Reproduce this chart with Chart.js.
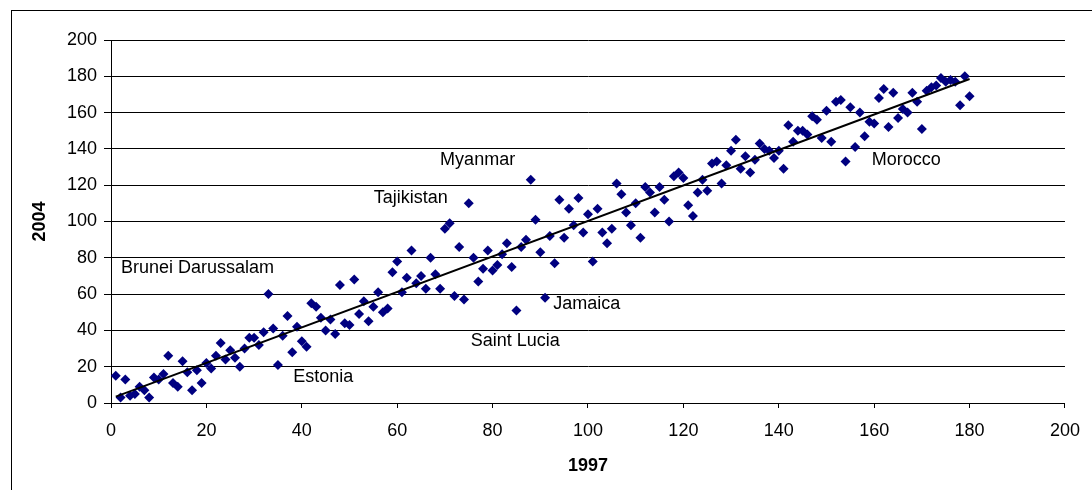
<!DOCTYPE html>
<html>
<head>
<meta charset="utf-8">
<title>1997 vs 2004</title>
<script src="https://cdn.jsdelivr.net/npm/chart.js@4/dist/chart.umd.min.js"></script>
<style>
    html, body { margin: 0; padding: 0; background: #fff; }
    #wrap { width: 1092px; height: 490px; }
</style>
</head>
<body>
<div id="wrap"><canvas id="rankChart" width="1092" height="490"></canvas></div>
<script>
// Posición en 1997 (eje X) y en 2004 (eje Y)
const rank1997 = [
    1, 2, 3, 4, 5, 6, 7, 8, 9, 10, 11, 12, 13, 14, 15, 16, 17, 18, 19, 20,
    21, 22, 23, 24, 25, 26, 27, 28, 29, 30, 31, 32, 33, 34, 35, 36, 37, 38, 39, 40,
    41, 42, 43, 44, 45, 46, 47, 48, 49, 50, 51, 52, 53, 54, 55, 56, 57, 58, 59, 60,
    61, 62, 63, 64, 65, 66, 67, 68, 69, 70, 71, 72, 73, 74, 75, 76, 77, 78, 79, 80,
    81, 82, 83, 84, 85, 86, 87, 88, 89, 90, 91, 92, 93, 94, 95, 96, 97, 98, 99, 100,
    101, 102, 103, 104, 105, 106, 107, 108, 109, 110, 111, 112, 113, 114, 115, 116, 117, 118, 119, 120,
    121, 122, 123, 124, 125, 126, 127, 128, 129, 130, 131, 132, 133, 134, 135, 136, 137, 138, 139, 140,
    141, 142, 143, 144, 145, 146, 147, 148, 149, 150, 151, 152, 153, 154, 155, 156, 157, 158, 159, 160,
    161, 162, 163, 164, 165, 166, 167, 168, 169, 170, 171, 172, 173, 174, 175, 176, 177, 178, 179, 180
];
const rank2004 = [
    15, 3, 13, 4, 5, 9, 7, 3, 14, 13, 16, 26, 11, 9, 23, 17, 7, 18, 11, 22,
    19, 26, 33, 24, 29, 25, 20, 30, 36, 36, 32, 39, 60, 41, 21, 37, 48, 28, 42, 34,
    31, 55, 53, 47, 40, 46, 38, 65, 44, 43, 68, 49, 56, 45, 53, 61, 50, 52, 72, 78,
    61, 69, 84, 66, 70, 63, 80, 71, 63, 96, 99, 59, 86, 57, 110, 80, 67, 74, 84, 73,
    76, 82, 88, 75, 51, 86, 90, 123, 101, 83, 58, 92, 77, 112, 91, 107, 98, 113, 94, 104,
    78, 107, 94, 88, 96, 121, 115, 105, 98, 110, 91, 119, 116, 105, 119, 112, 100, 125, 127, 124,
    109, 103, 116, 123, 117, 132, 133, 121, 131, 139, 145, 129, 136, 127, 134, 143, 140, 139, 135, 139,
    129, 153, 144, 150, 150, 148, 158, 156, 146, 161, 144, 166, 167, 133, 163, 141, 160, 147, 155, 154,
    168, 173, 152, 171, 157, 162, 160, 171, 166, 151, 172, 174, 175, 179, 177, 178, 177, 164, 180, 169
];

// Línea de tendencia (extremos)
const trendX = [1, 180];
const trendY = [3.5, 178.5];

// Etiquetas de países dentro del gráfico
const labelNames = ['Myanmar', 'Tajikistan', 'Brunei Darussalam', 'Estonia', 'Saint Lucia', 'Jamaica', 'Morocco'];
const labelX = [69.0, 55.1, 2.1, 38.2, 75.4, 92.7, 159.5];
const labelY = [134, 113, 74.4, 14.3, 34.2, 54.5, 134];

// Ticks de los ejes
const xTicks = [0, 20, 40, 60, 80, 100, 120, 140, 160, 180, 200];
const yTicks = [0, 20, 40, 60, 80, 100, 120, 140, 160, 180, 200];

const FONT = "'Liberation Sans', Arial, sans-serif";

document.addEventListener('DOMContentLoaded', () => {
    const ctx = document.getElementById('rankChart').getContext('2d');

    const points = rank1997.map((x, i) => ({ x: x, y: rank2004[i] }));
    const trend = trendX.map((x, i) => ({ x: x, y: trendY[i] }));

    // Marco exterior del gráfico
    const frame = {
        id: 'frame',
        beforeDraw(chart) {
            const c = chart.ctx;
            c.save();
            c.fillStyle = '#fff';
            c.fillRect(0, 0, chart.width, chart.height);
            c.strokeStyle = '#000';
            c.lineWidth = 1;
            c.strokeRect(11.5, 10.5, chart.width + 20, chart.height + 20);
            c.restore();
        }
    };

    // Nombres de países en coordenadas de datos
    const countryLabels = {
        id: 'countryLabels',
        afterDatasetsDraw(chart) {
            const c = chart.ctx;
            const xs = chart.scales.x;
            const ys = chart.scales.y;
            c.save();
            c.font = '18px ' + FONT;
            c.fillStyle = '#000';
            c.textAlign = 'left';
            c.textBaseline = 'middle';
            labelNames.forEach((name, i) => {
                c.fillText(name, xs.getPixelForValue(labelX[i]), ys.getPixelForValue(labelY[i]));
            });
            c.restore();
        }
    };

    new Chart(ctx, {
        type: 'scatter',
        data: {
            datasets: [
                {
                    type: 'line',
                    label: 'Tendencia',
                    data: trend,
                    borderColor: '#000',
                    borderWidth: 2,
                    pointRadius: 0,
                    fill: false,
                    order: 0
                },
                {
                    label: 'Países',
                    data: points,
                    pointStyle: 'rectRot',
                    pointRadius: 5,
                    backgroundColor: '#000080',
                    borderColor: '#000080',
                    borderWidth: 0,
                    order: 1
                }
            ]
        },
        options: {
            responsive: false,
            devicePixelRatio: 1,
            animation: false,
            layout: { padding: { top: 40, right: 24, left: 0, bottom: 0 } },
            plugins: {
                legend: { display: false },
                tooltip: { enabled: false }
            },
            scales: {
                x: {
                    type: 'linear',
                    min: 0,
                    max: 200,
                    afterBuildTicks: (scale) => { scale.ticks = xTicks.map(v => ({ value: v })); },
                    afterFit: (scale) => { scale.height = 87; },
                    grid: { drawOnChartArea: false, drawTicks: true, tickLength: 5, color: '#000' },
                    border: { display: true, color: '#000' },
                    ticks: { color: '#000', padding: 12, maxRotation: 0, font: { family: FONT, size: 18 } },
                    title: {
                        display: true,
                        text: '1997',
                        color: '#000',
                        font: { family: FONT, size: 18, weight: 'bold', lineHeight: 1 },
                        padding: { top: 0, bottom: 15 }
                    }
                },
                y: {
                    type: 'linear',
                    min: 0,
                    max: 200,
                    afterBuildTicks: (scale) => { scale.ticks = yTicks.map(v => ({ value: v })); },
                    afterFit: (scale) => { scale.width = 111; },
                    grid: { color: '#000', drawTicks: true, tickLength: 7 },
                    border: { display: true, color: '#000' },
                    ticks: { color: '#000', padding: 7, font: { family: FONT, size: 18 } },
                    title: {
                        display: true,
                        text: '2004',
                        color: '#000',
                        font: { family: FONT, size: 18, weight: 'bold', lineHeight: 1 },
                        padding: { top: 31, bottom: 0 }
                    }
                }
            }
        },
        plugins: [frame, countryLabels]
    });
});
</script>
</body>
</html>
